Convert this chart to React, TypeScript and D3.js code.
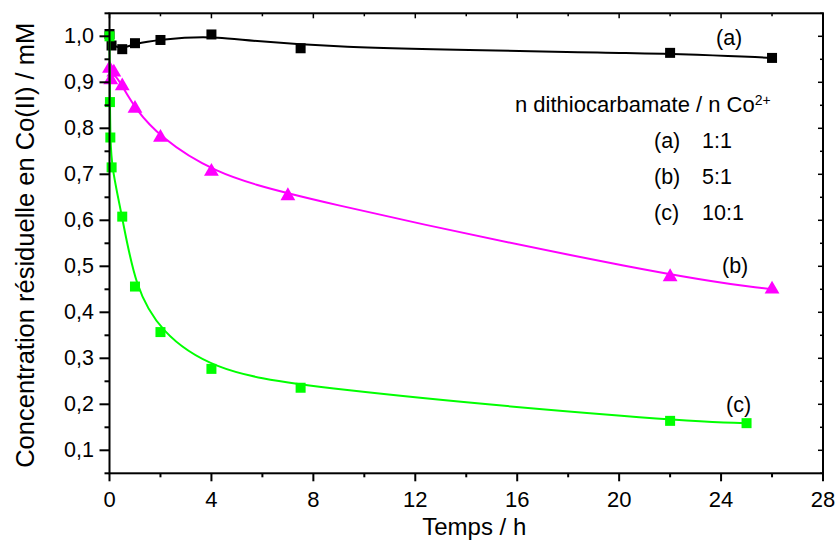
import React from "react";
import * as d3 from "d3";

// ---- data ----
const tA: number[] = [0, 0.08, 0.5, 1, 2, 4, 7.5, 22, 26];
const cA: number[] = [1.005, 0.98, 0.972, 0.985, 0.992, 1.004, 0.974, 0.964, 0.953];

const tB: number[] = [0, 0.05, 0.17, 0.5, 1, 2, 4, 7, 22, 26];
const cB: number[] = [0.93, 0.905, 0.922, 0.892, 0.843, 0.78, 0.706, 0.653, 0.477, 0.45];

const tC: number[] = [0, 0.017, 0.033, 0.083, 0.5, 1, 2, 4, 7.5, 22, 25];
const cC: number[] = [1.0, 0.857, 0.78, 0.715, 0.608, 0.456, 0.357, 0.277, 0.236, 0.164, 0.159];

const xTicks: number[] = [0, 4, 8, 12, 16, 20, 24, 28];
const xMinor: number[] = [2, 6, 10, 14, 18, 22, 26];
const yTicks: number[] = [0.1, 0.2, 0.3, 0.4, 0.5, 0.6, 0.7, 0.8, 0.9, 1.0];
const yMinor: number[] = [0.05, 0.15, 0.25, 0.35, 0.45, 0.55, 0.65, 0.75, 0.85, 0.95, 1.05];

const xTitle = "Temps / h";
const yTitle = "Concentration résiduelle en Co(II) / mM";
const legendTitle = "n dithiocarbamate / n Co";
const legendSup = "2+";
const legendKeys: string[] = ["(a)", "(b)", "(c)"];
const legendRatios: string[] = ["1:1", "5:1", "10:1"];

const FONT = "'Liberation Sans', Arial, Helvetica, sans-serif";

export default function App() {
  const W = 836, H = 541;
  const L = 109.5, R = 823, T = 13.3, B = 473.3;
  const x = d3.scaleLinear().domain([0, 28]).range([L, R]);
  const y = d3.scaleLinear().domain([0.05, 1.05]).range([B, T]);
  const fmt = (v: number) => d3.format(".1f")(v).replace(".", ",");

  const series = [
    { t: tA, c: cA, color: "#000000", shape: "square" },
    { t: tB, c: cB, color: "#ff00ff", shape: "triangle" },
    { t: tC, c: cC, color: "#00ff00", shape: "square" },
  ];

  const line = d3
    .line<[number, number]>()
    .x((d) => x(d[0]))
    .y((d) => y(d[1]))
    .curve(d3.curveBasis);

  const tri = d3.symbol().type(d3.symbolTriangle).size(95)();

  return (
    <div style={{ position: "fixed", left: 0, top: 0 }}>
      <svg width={W} height={H} style={{ display: "block", background: "#fff" }} fontFamily={FONT}>
        {/* series */}
        {series.map((s, i) => {
          const pts: [number, number][] = s.t.map((t, j) => [t, s.c[j]]);
          return (
            <g key={i}>
              <path d={line(pts) || ""} fill="none" stroke={s.color} strokeWidth={2} />
              {pts.map((p, j) =>
                s.shape === "square" ? (
                  <rect key={j} x={x(p[0]) - 5} y={y(p[1]) - 5} width={10} height={10} fill={s.color} />
                ) : (
                  <path key={j} d={tri || ""} transform={`translate(${x(p[0])},${y(p[1])})`} fill={s.color} />
                )
              )}
            </g>
          );
        })}

        {/* frame */}
        <rect x={L} y={T} width={R - L} height={B - T} fill="none" stroke="#000" strokeWidth={2} />

        {/* x ticks */}
        {xTicks.map((v) => (
          <g key={"x" + v}>
            <line x1={x(v)} x2={x(v)} y1={B} y2={B + 8} stroke="#000" strokeWidth={2} />
            <line x1={x(v)} x2={x(v)} y1={T} y2={T + 5} stroke="#000" strokeWidth={1.5} />
            <text x={x(v)} y={507} textAnchor="middle" fontSize={22}>
              {v}
            </text>
          </g>
        ))}
        {xMinor.map((v) => (
          <g key={"xm" + v}>
            <line x1={x(v)} x2={x(v)} y1={B} y2={B + 4} stroke="#000" strokeWidth={2} />
            <line x1={x(v)} x2={x(v)} y1={T} y2={T + 3} stroke="#000" strokeWidth={1.5} />
          </g>
        ))}

        {/* y ticks */}
        {yTicks.map((v) => (
          <g key={"y" + v}>
            <line x1={L - 10} x2={L} y1={y(v)} y2={y(v)} stroke="#000" strokeWidth={2} />
            <line x1={R - 5} x2={R} y1={y(v)} y2={y(v)} stroke="#000" strokeWidth={1.5} />
            <text x={94} y={y(v)} textAnchor="end" dominantBaseline="central" fontSize={21.5}>
              {fmt(v)}
            </text>
          </g>
        ))}
        {yMinor.map((v) => (
          <g key={"ym" + v}>
            <line x1={L - 5} x2={L} y1={y(v)} y2={y(v)} stroke="#000" strokeWidth={2} />
            <line x1={R - 3} x2={R} y1={y(v)} y2={y(v)} stroke="#000" strokeWidth={1.5} />
          </g>
        ))}

        {/* axis titles */}
        <text x={(L + R) / 2 + 8} y={535} textAnchor="middle" fontSize={24}>
          {xTitle}
        </text>
        <text transform={`translate(34,${(T + B) / 2 + 2}) rotate(-90)`} textAnchor="middle" fontSize={25.5}>
          {yTitle}
        </text>

        {/* curve labels */}
        <text x={716} y={45} fontSize={21.5}>{legendKeys[0]}</text>
        <text x={722} y={273} fontSize={21.5}>{legendKeys[1]}</text>
        <text x={726} y={412} fontSize={21.5}>{legendKeys[2]}</text>

        {/* legend */}
        <text x={515} y={112} fontSize={22}>
          {legendTitle}
          <tspan fontSize={14} dy={-7}>{legendSup}</tspan>
        </text>
        {legendKeys.map((k, i) => (
          <g key={"l" + i}>
            <text x={654} y={148 + i * 36} fontSize={21.5}>{k}</text>
            <text x={702} y={148 + i * 36} fontSize={21.5}>{legendRatios[i]}</text>
          </g>
        ))}
      </svg>
    </div>
  );
}
